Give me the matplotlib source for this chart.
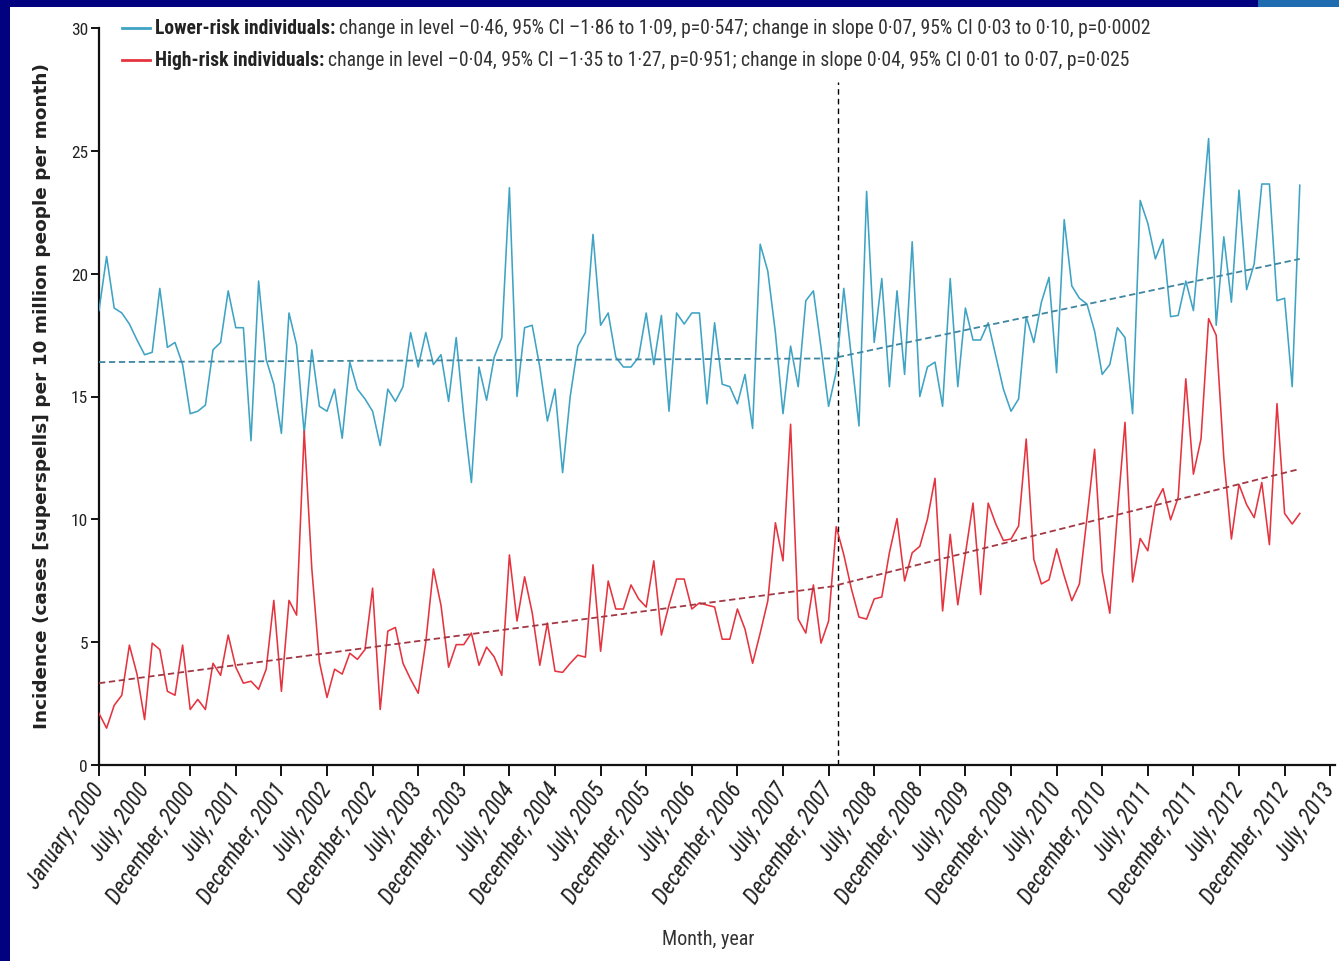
import numpy as np
import matplotlib
matplotlib.use('Agg')
import matplotlib.pyplot as plt
from matplotlib import font_manager as fm
from matplotlib.patches import Rectangle
from matplotlib.lines import Line2D

# ---------------- data (monthly, Jan 2000 = month 0) ----------------
lower_risk = [18.5, 20.7, 18.6, 18.4, 17.95, 17.3, 16.7, 16.8, 19.4, 17.0,
              17.2, 16.3, 14.3, 14.4, 14.65, 16.9, 17.2, 19.3, 17.8, 17.8,
              13.2, 19.7, 16.5, 15.5, 13.5, 18.4, 17.1, 13.5, 16.9, 14.6,
              14.4, 15.3, 13.3, 16.4, 15.3, 14.9, 14.4, 13.0, 15.3, 14.8,
              15.4, 17.6, 16.2, 17.6, 16.3, 16.7, 14.8, 17.4, 14.2, 11.5,
              16.2, 14.85, 16.6, 17.4, 23.5, 15.0, 17.8, 17.9, 16.2, 14.0,
              15.3, 11.9, 15.0, 17.05, 17.6, 21.6, 17.9, 18.4, 16.6, 16.2,
              16.2, 16.6, 18.4, 16.3, 18.3, 14.4, 18.4, 17.95, 18.4, 18.4,
              14.7, 18.0, 15.5, 15.4, 14.7, 15.9, 13.7, 21.2, 20.1, 17.6,
              14.3, 17.05, 15.4, 18.9, 19.3, 17.0, 14.6, 16.0, 19.4, 16.6,
              13.8, 23.35, 17.2, 19.8, 15.4, 19.3, 15.9, 21.3, 15.0, 16.2,
              16.4, 14.6, 19.8, 15.4, 18.6, 17.3, 17.3, 18.0, 16.65, 15.3,
              14.4, 14.9, 18.25, 17.2, 18.84, 19.85, 15.97, 22.2, 19.5, 19.0,
              18.76, 17.66, 15.9, 16.3, 17.8, 17.4, 14.3, 22.98, 22.05, 20.6,
              21.4, 18.25, 18.3, 19.7, 18.5, 21.9, 25.5, 17.9, 21.5, 18.84,
              23.4, 19.35, 20.4, 23.65, 23.65, 18.9, 19.0, 15.4, 23.6]

high_risk = [2.1, 1.5, 2.43, 2.84, 4.88, 3.7, 1.85, 4.96, 4.7, 3.0,
             2.84, 4.88, 2.26, 2.67, 2.26, 4.14, 3.65, 5.29, 3.98, 3.33,
             3.41, 3.08, 3.9, 6.7, 3.0, 6.7, 6.1, 13.6, 8.0, 4.2,
             2.75, 3.9, 3.7, 4.55, 4.3, 4.7, 7.2, 2.26, 5.45, 5.6,
             4.14, 3.49, 2.92, 5.0, 7.98, 6.5, 3.98, 4.9, 4.9, 5.37,
             4.06, 4.8, 4.4, 3.65, 8.55, 5.86, 7.66, 6.2, 4.06, 5.78,
             3.82, 3.77, 4.14, 4.47, 4.39, 8.15, 4.63, 7.49, 6.35, 6.35,
             7.33, 6.76, 6.43, 8.31, 5.29, 6.51, 7.57, 7.57, 6.35, 6.6,
             6.51, 6.43, 5.12, 5.12, 6.35, 5.53, 4.14, 5.37, 6.68, 9.86,
             8.31, 13.87, 5.94, 5.37, 7.33, 4.96, 5.86, 9.7, 8.56, 7.17,
             6.02, 5.94, 6.76, 6.84, 8.64, 10.03, 7.49, 8.64, 8.9, 10.0,
             11.67, 6.27, 9.39, 6.52, 8.6, 10.66, 6.94, 10.66, 9.81, 9.14,
             9.2, 9.73, 13.27, 8.38, 7.37, 7.54, 8.8, 7.7, 6.69, 7.37,
             10.07, 12.85, 7.87, 6.18, 10.24, 13.95, 7.45, 9.22, 8.72, 10.66,
             11.25, 9.98, 10.9, 15.72, 11.84, 13.27, 18.17, 17.49, 12.5, 9.2,
             11.42, 10.6, 10.07, 11.5, 8.97, 14.71, 10.24, 9.81, 10.24]

# segmented-regression trend lines (value at start / end of each segment)
lower_trend_pre = [16.4, 16.55]
lower_trend_post = [16.6, 20.6]
high_trend_pre = [3.33, 7.3]
high_trend_post = [7.33, 12.05]
break_month = 97.2
break_line_top = 27.8

tick_months = list(range(0, 163, 6))
tick_labels = ['January, 2000', 'July, 2000', 'December, 2000', 'July, 2001',
               'December, 2001', 'July, 2002', 'December, 2002', 'July, 2003',
               'December, 2003', 'July, 2004', 'December, 2004', 'July, 2005',
               'December, 2005', 'July, 2006', 'December, 2006', 'July, 2007',
               'December, 2007', 'July, 2008', 'December, 2008', 'July, 2009',
               'December, 2009', 'July, 2010', 'December, 2010', 'July, 2011',
               'December, 2011', 'July, 2012', 'December, 2012', 'July, 2013']
y_ticks = [0, 5, 10, 15, 20, 25, 30]

legend_bold = ['Lower-risk individuals:', 'High-risk individuals:']
legend_rest = ['change in level \u20130\u00b746, 95% CI \u20131\u00b786 to 1\u00b709, p=0\u00b7547; '
               'change in slope 0\u00b707, 95% CI 0\u00b703 to 0\u00b710, p=0\u00b70002',
               'change in level \u20130\u00b704, 95% CI \u20131\u00b735 to 1\u00b727, p=0\u00b7951; '
               'change in slope 0\u00b704, 95% CI 0\u00b701 to 0\u00b707, p=0\u00b7025']
y_label = 'Incidence (cases [superspells] per 10 million people per month)'
x_label = 'Month, year'

# ---------------- style ----------------
BLUE = '#3fa3c4'
RED = '#e5343f'
BLUE_TREND = '#3f86a0'
RED_TREND = '#a23844'
NAVY = '#020280'

names = {f.name for f in fm.fontManager.ttflist}
NARROW = next((n for n in ['Liberation Sans Narrow', 'Roboto Condensed',
                           'Open Sans Condensed', 'Liberation Sans']
               if n in names), 'DejaVu Sans')

W, H = 1339, 962
fig = plt.figure(figsize=(W / 100, H / 100), dpi=100)
fig.patch.set_facecolor('white')


def fx(x):
    return x / W


def fy(y):
    return 1 - y / H


# navy frame
fig.patches.append(Rectangle((0, 0), fx(10), 1, transform=fig.transFigure,
                             facecolor=NAVY, edgecolor='none', zorder=0))
fig.patches.append(Rectangle((0, fy(8)), 1, 8 / H, transform=fig.transFigure,
                             facecolor=NAVY, edgecolor='none', zorder=0))
fig.patches.append(Rectangle((fx(1258), fy(8)), fx(81), 8 / H, transform=fig.transFigure,
                             facecolor='#1f6db0', edgecolor='none', zorder=1))

PX_PER_MONTH = 7.6
ax = fig.add_axes([fx(99), fy(766), (1335 - 99) / W, (766 - 29) / H])
ax.set_xlim(0, (1335 - 99) / PX_PER_MONTH)
ax.set_ylim(0, 30)
ax.set_facecolor('white')

months = np.arange(len(lower_risk))
ax.plot(months, lower_risk, color=BLUE, lw=1.15, zorder=3)
ax.plot(months, high_risk, color=RED, lw=1.15, zorder=3)

last = months[-1]
ax.plot([0, break_month], lower_trend_pre, color=BLUE_TREND, lw=1.3,
        dashes=(3.5, 2), zorder=4)
ax.plot([break_month, last], lower_trend_post, color=BLUE_TREND, lw=1.3,
        dashes=(3.5, 2), zorder=4)
ax.plot([0, break_month], high_trend_pre, color=RED_TREND, lw=1.3,
        dashes=(3.5, 2), zorder=4)
ax.plot([break_month, last], high_trend_post, color=RED_TREND, lw=1.3,
        dashes=(3.5, 2), zorder=4)
ax.plot([break_month, break_month], [0, break_line_top], color='black', lw=1.0,
        dashes=(4, 3), zorder=2)

for s in ['top', 'right']:
    ax.spines[s].set_visible(False)
for s in ['left', 'bottom']:
    ax.spines[s].set_linewidth(1.6)
    ax.spines[s].set_color('#111111')

ax.set_yticks(y_ticks)
ax.set_yticklabels([str(v) for v in y_ticks], fontfamily=NARROW, fontsize=12.5,
                   color='#222222')
ax.tick_params(axis='y', length=6, width=1.3, pad=2)
ax.set_xticks(tick_months)
ax.set_xticklabels(tick_labels, rotation=56, ha='right', va='center',
                   rotation_mode='anchor', fontfamily=NARROW, fontstyle='italic',
                   fontsize=13, color='#222222')
ax.tick_params(axis='x', length=8, width=1.3, pad=6)

fig.canvas.draw()
renderer = fig.canvas.get_renderer()

# fit tick label size so "December, 2000" is ~140 px long
tmp = fig.text(0, 0, 'December, 2000', fontfamily=NARROW, fontstyle='italic', fontsize=13)
w = tmp.get_window_extent(renderer).width
tmp.remove()
tfs = 13 * 140 / w
for lbl in ax.get_xticklabels():
    lbl.set_fontsize(tfs)

# legend
row_y = [29, 61]
handles_x = [122, 150]
bold_txt, rest_txt = [], []
for i in range(2):
    col = BLUE if i == 0 else RED
    fig.lines.append(Line2D([fx(handles_x[0]), fx(handles_x[1])], [fy(row_y[i])] * 2,
                            transform=fig.transFigure, color=col, lw=2.0))
    b = fig.text(fx(155), fy(row_y[i]), legend_bold[i], fontfamily=NARROW,
                 fontweight='bold', fontsize=14, color='#222222', va='center', ha='left')
    r = fig.text(fx(300), fy(row_y[i]), legend_rest[i], fontfamily=NARROW,
                 fontsize=14, color='#333333', va='center', ha='left')
    bold_txt.append(b)
    rest_txt.append(r)


def place_rest():
    fig.canvas.draw()
    for b, r in zip(bold_txt, rest_txt):
        bb = b.get_window_extent(renderer)
        r.set_x(fx(bb.x1 + 4))


place_rest()
total = rest_txt[0].get_window_extent(renderer).x1 - bold_txt[0].get_window_extent(renderer).x0
lfs = 14 * (1153 - 155) / total
for t in bold_txt + rest_txt:
    t.set_fontsize(lfs)
place_rest()

# axis labels
yl = fig.text(fx(42), fy(396), y_label, rotation=90, ha='center', va='center',
              fontfamily='DejaVu Sans', fontweight='bold', fontsize=12, color='#222222')
xl = fig.text(fx(708), fy(940), x_label, ha='center', va='center',
              fontfamily=NARROW, fontsize=15, color='#333333')
fig.canvas.draw()
h = yl.get_window_extent(renderer).height
yl.set_fontsize(12 * 663 / h)
w = xl.get_window_extent(renderer).width
xl.set_fontsize(15 * 93 / w)

fig.savefig('out.png', dpi=100, facecolor=fig.get_facecolor())
